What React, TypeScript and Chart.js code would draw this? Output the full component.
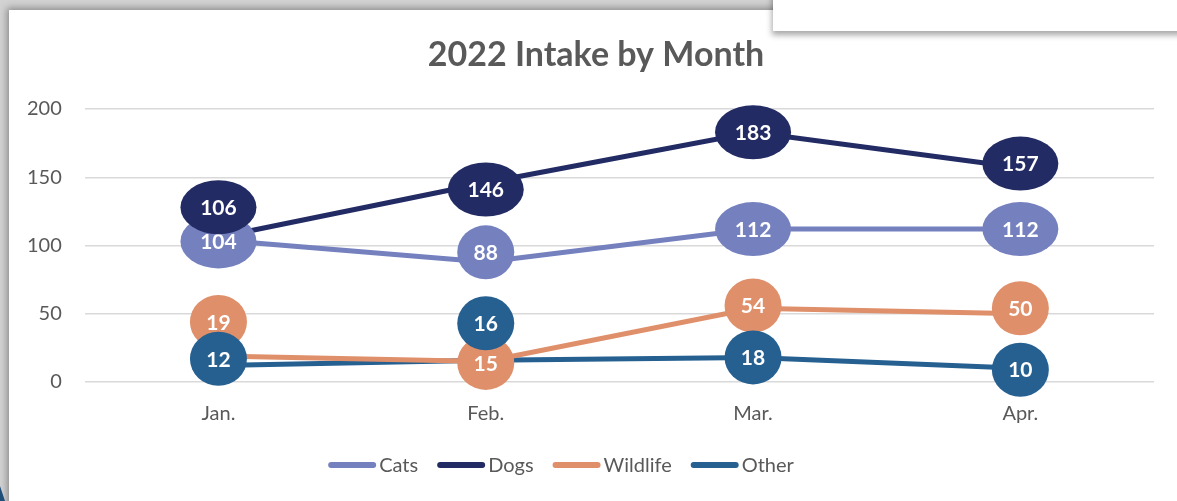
import React, { useEffect, useRef } from "react";
import { Chart, registerables } from "chart.js";

Chart.register(...registerables);

const categories = ["Jan.", "Feb.", "Mar.", "Apr."];
const seriesNames = ["Cats", "Dogs", "Wildlife", "Other"];
const cats = [104, 88, 112, 112];
const dogs = [106, 146, 183, 157];
const wildlife = [19, 15, 54, 50];
const other = [12, 16, 18, 10];
// where each data label bubble sits, in value units
const catsLabelAt = [103, 95, 112, 112];
const dogsLabelAt = [128, 141, 183, 160];
const wildlifeLabelAt = [44, 14, 56, 54];
const otherLabelAt = [17, 43, 18, 9];
const yTicks = [0, 50, 100, 150, 200];
const titleText = "2022 Intake by Month";

const colors = ["#7580BF", "#222B63", "#DF8F69", "#256091"];
const FONT = "Lato, 'Noto Sans', sans-serif";
const TEXT = "#595959";

const seriesValues = [cats, dogs, wildlife, other];
const labelPositions = [catsLabelAt, dogsLabelAt, wildlifeLabelAt, otherLabelAt];

const TITLE_CENTER_X = 596;
const TITLE_Y = 55;
const LEGEND_CENTER_X = 561;
const LEGEND_Y = 465;

const bubblePlugin = {
  id: "bubbles",
  afterDatasetsDraw(chart: any) {
    const ctx = chart.ctx;
    const xs = chart.scales.x;
    const ys = chart.scales.y;
    chart.data.datasets.forEach((ds: any, i: number) => {
      ds.data.forEach((v: number, j: number) => {
        const x = xs.getPixelForValue(j);
        const y = ys.getPixelForValue(labelPositions[i][j]);
        const txt = String(v);
        const rx = txt.length >= 3 ? 38 : 28.5;
        const ry = 27;
        ctx.save();
        ctx.beginPath();
        ctx.ellipse(x, y, rx, ry, 0, 0, Math.PI * 2);
        ctx.fillStyle = colors[i];
        ctx.fill();
        ctx.fillStyle = "#ffffff";
        ctx.font = `bold 21px ${FONT}`;
        ctx.textAlign = "center";
        ctx.textBaseline = "middle";
        ctx.fillText(txt, x, y + 1);
        ctx.restore();
      });
    });
  },
  afterDraw(chart: any) {
    const ctx = chart.ctx;
    ctx.save();
    // title
    ctx.font = `bold 34px ${FONT}`;
    ctx.fillStyle = TEXT;
    ctx.textAlign = "center";
    ctx.textBaseline = "middle";
    ctx.fillText(titleText, TITLE_CENTER_X, TITLE_Y);
    // legend
    ctx.font = `20px ${FONT}`;
    const lineW = 48;
    const gapText = 3;
    const gapItem = 19;
    const names = chart.data.datasets.map((d: any) => d.label);
    const widths = names.map((n: string) => ctx.measureText(n).width);
    const total =
      widths.reduce((a: number, b: number) => a + b, 0) +
      names.length * (lineW + gapText) +
      (names.length - 1) * gapItem;
    let x = LEGEND_CENTER_X - total / 2;
    names.forEach((n: string, i: number) => {
      ctx.strokeStyle = colors[i];
      ctx.lineWidth = 6;
      ctx.lineCap = "round";
      ctx.beginPath();
      ctx.moveTo(x + 3, LEGEND_Y);
      ctx.lineTo(x + lineW - 3, LEGEND_Y);
      ctx.stroke();
      ctx.fillStyle = TEXT;
      ctx.textAlign = "left";
      ctx.textBaseline = "middle";
      ctx.fillText(n, x + lineW + gapText, LEGEND_Y + 1);
      x += lineW + gapText + widths[i] + gapItem;
    });
    ctx.restore();
  },
};

export default function App() {
  const ref = useRef<HTMLCanvasElement | null>(null);
  useEffect(() => {
    if (!ref.current) return;
    const chart = new Chart(ref.current, {
      type: "line",
      data: {
        labels: categories,
        datasets: seriesNames.map((name, i) => ({
          label: name,
          data: seriesValues[i],
          borderColor: colors[i],
          backgroundColor: colors[i],
          borderWidth: 5,
          pointRadius: 0,
          tension: 0,
        })),
      },
      options: {
        animation: false,
        responsive: false,
        maintainAspectRatio: false,
        layout: { padding: { left: 4, right: 23, top: 109, bottom: 55 } },
        scales: {
          x: {
            offset: true,
            grid: { display: false, drawTicks: false },
            border: { display: false },
            ticks: { color: TEXT, font: { family: FONT, size: 20 }, padding: 20 },
          },
          y: {
            min: 0,
            max: 200,
            afterBuildTicks: (scale: any) => {
              scale.ticks = yTicks.map((v) => ({ value: v }));
            },
            grid: { color: "#D9D9D9", lineWidth: 1.5, drawTicks: false },
            border: { display: false },
            ticks: { color: TEXT, font: { family: FONT, size: 20 }, padding: 23 },
          },
        },
        plugins: {
          tooltip: { enabled: false },
          legend: { display: false },
          title: { display: false },
        },
      },
      plugins: [bubblePlugin],
    } as any);
    return () => chart.destroy();
  }, []);

  return (
    <div style={{ position: "fixed", left: 0, top: 0, width: 1177, height: 501, overflow: "hidden", background: "#d2d2d2" }}>
      <div style={{ position: "absolute", left: 9, top: 10, width: 1300, height: 600, background: "#fff", boxShadow: "0 0 7px 2px rgba(0,0,0,0.35)" }} />
      <canvas ref={ref} width={1177} height={501} style={{ position: "absolute", left: 0, top: 0 }} />
      <div style={{ position: "absolute", left: 773, top: -20, width: 450, height: 51, background: "#fff", boxShadow: "0 3px 6px 1px rgba(0,0,0,0.35)" }} />
      <div style={{ position: "absolute", left: 0, top: 486, width: 5, height: 15, background: "#1F4E79", clipPath: "polygon(0 0, 100% 100%, 0 100%)" }} />
    </div>
  );
}
